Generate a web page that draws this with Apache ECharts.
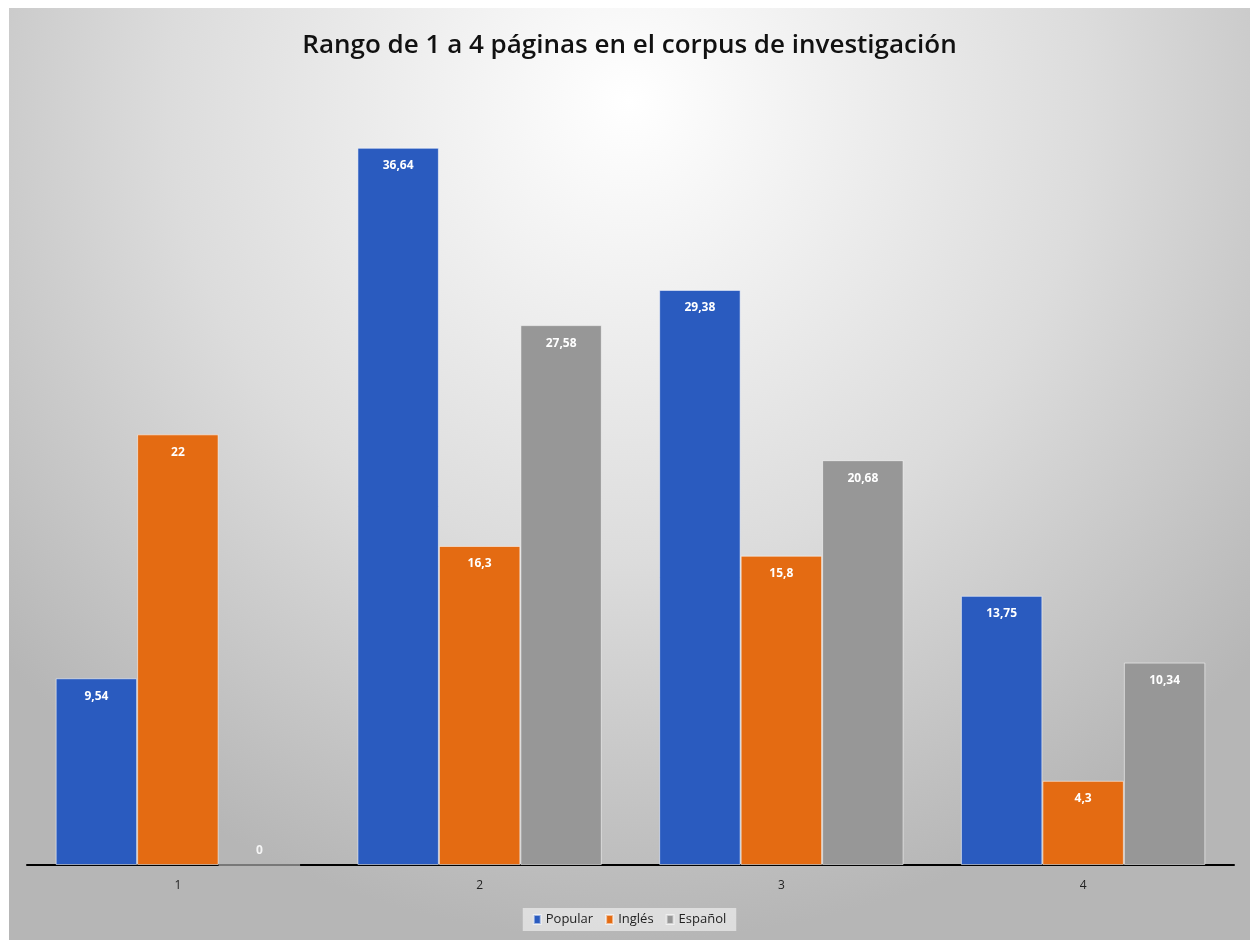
<!DOCTYPE html>
<html><head><meta charset="utf-8">
<script src="https://cdn.jsdelivr.net/npm/echarts@6/dist/echarts.min.js"></script>
<style>
html,body{margin:0;padding:0;background:#fff;width:1250px;height:940px;overflow:hidden}
#c{position:absolute;left:9px;top:8px;width:1241px;height:932px}
</style></head><body>
<div id="c"></div>
<script>
const titleText = 'Rango de 1 a 4 páginas en el corpus de investigación';
const categories = ['1', '2', '3', '4'];
const seriesNames = ['Popular', 'Inglés', 'Español'];
const popular = [9.54, 36.64, 29.38, 13.75];
const ingles = [22, 16.3, 15.8, 4.3];
const espanol = [0, 27.58, 20.68, 10.34];
const colors = ['#2a5bbf', '#e46b12', '#979797'];

const chart = echarts.init(document.getElementById('c'));
const fmt = p => String(p.value).replace('.', ',');
function mk(name, data, color) {
  return {
    name, type: 'bar',
    data: data.map(v => v === 0 ? { value: v, label: { position: 'top', distance: 8, color: '#f4f4f4' } } : v),
    barGap: '0%', barCategoryGap: '19%',
    itemStyle: { color, borderColor: 'rgba(255,255,255,0.55)', borderWidth: 1 },
    label: { show: true, position: 'insideTop', distance: 12, color: '#ffffff', fontSize: 12,
      fontWeight: 'bold', fontFamily: 'Open Sans', formatter: fmt },
    emphasis: { disabled: true }
  };
}
chart.setOption({
  animation: false,
  backgroundColor: {
    type: 'radial', x: 0.5, y: 0.1, r: 0.9,
    colorStops: [{ offset: 0, color: '#ffffff' }, { offset: 0.55, color: '#dcdcdc' }, { offset: 1, color: '#b6b6b6' }]
  },
  title: { text: titleText, left: 'center', top: 20,
    textStyle: { fontFamily: 'Open Sans', fontWeight: 600, fontSize: 26, color: '#111' } },
  legend: { bottom: 9, itemWidth: 7, itemHeight: 9, itemGap: 12, icon: 'rect',
    backgroundColor: 'rgba(228,228,228,0.85)', padding: [5, 10],
    textStyle: { fontFamily: 'Open Sans', fontSize: 13, color: '#222' } },
  grid: { left: 18, right: 16, top: 74, bottom: 75, containLabel: false },
  xAxis: { type: 'category', data: categories,
    axisLine: { lineStyle: { color: '#000', width: 2 } }, axisTick: { show: false },
    axisLabel: { color: '#222', fontSize: 12, fontFamily: 'Open Sans', margin: 15 } },
  yAxis: { type: 'value', min: 0, max: 40, show: false, splitLine: { show: false } },
  series: [mk(seriesNames[0], popular, colors[0]), mk(seriesNames[1], ingles, colors[1]), mk(seriesNames[2], espanol, colors[2])]
});
</script>
</body></html>
